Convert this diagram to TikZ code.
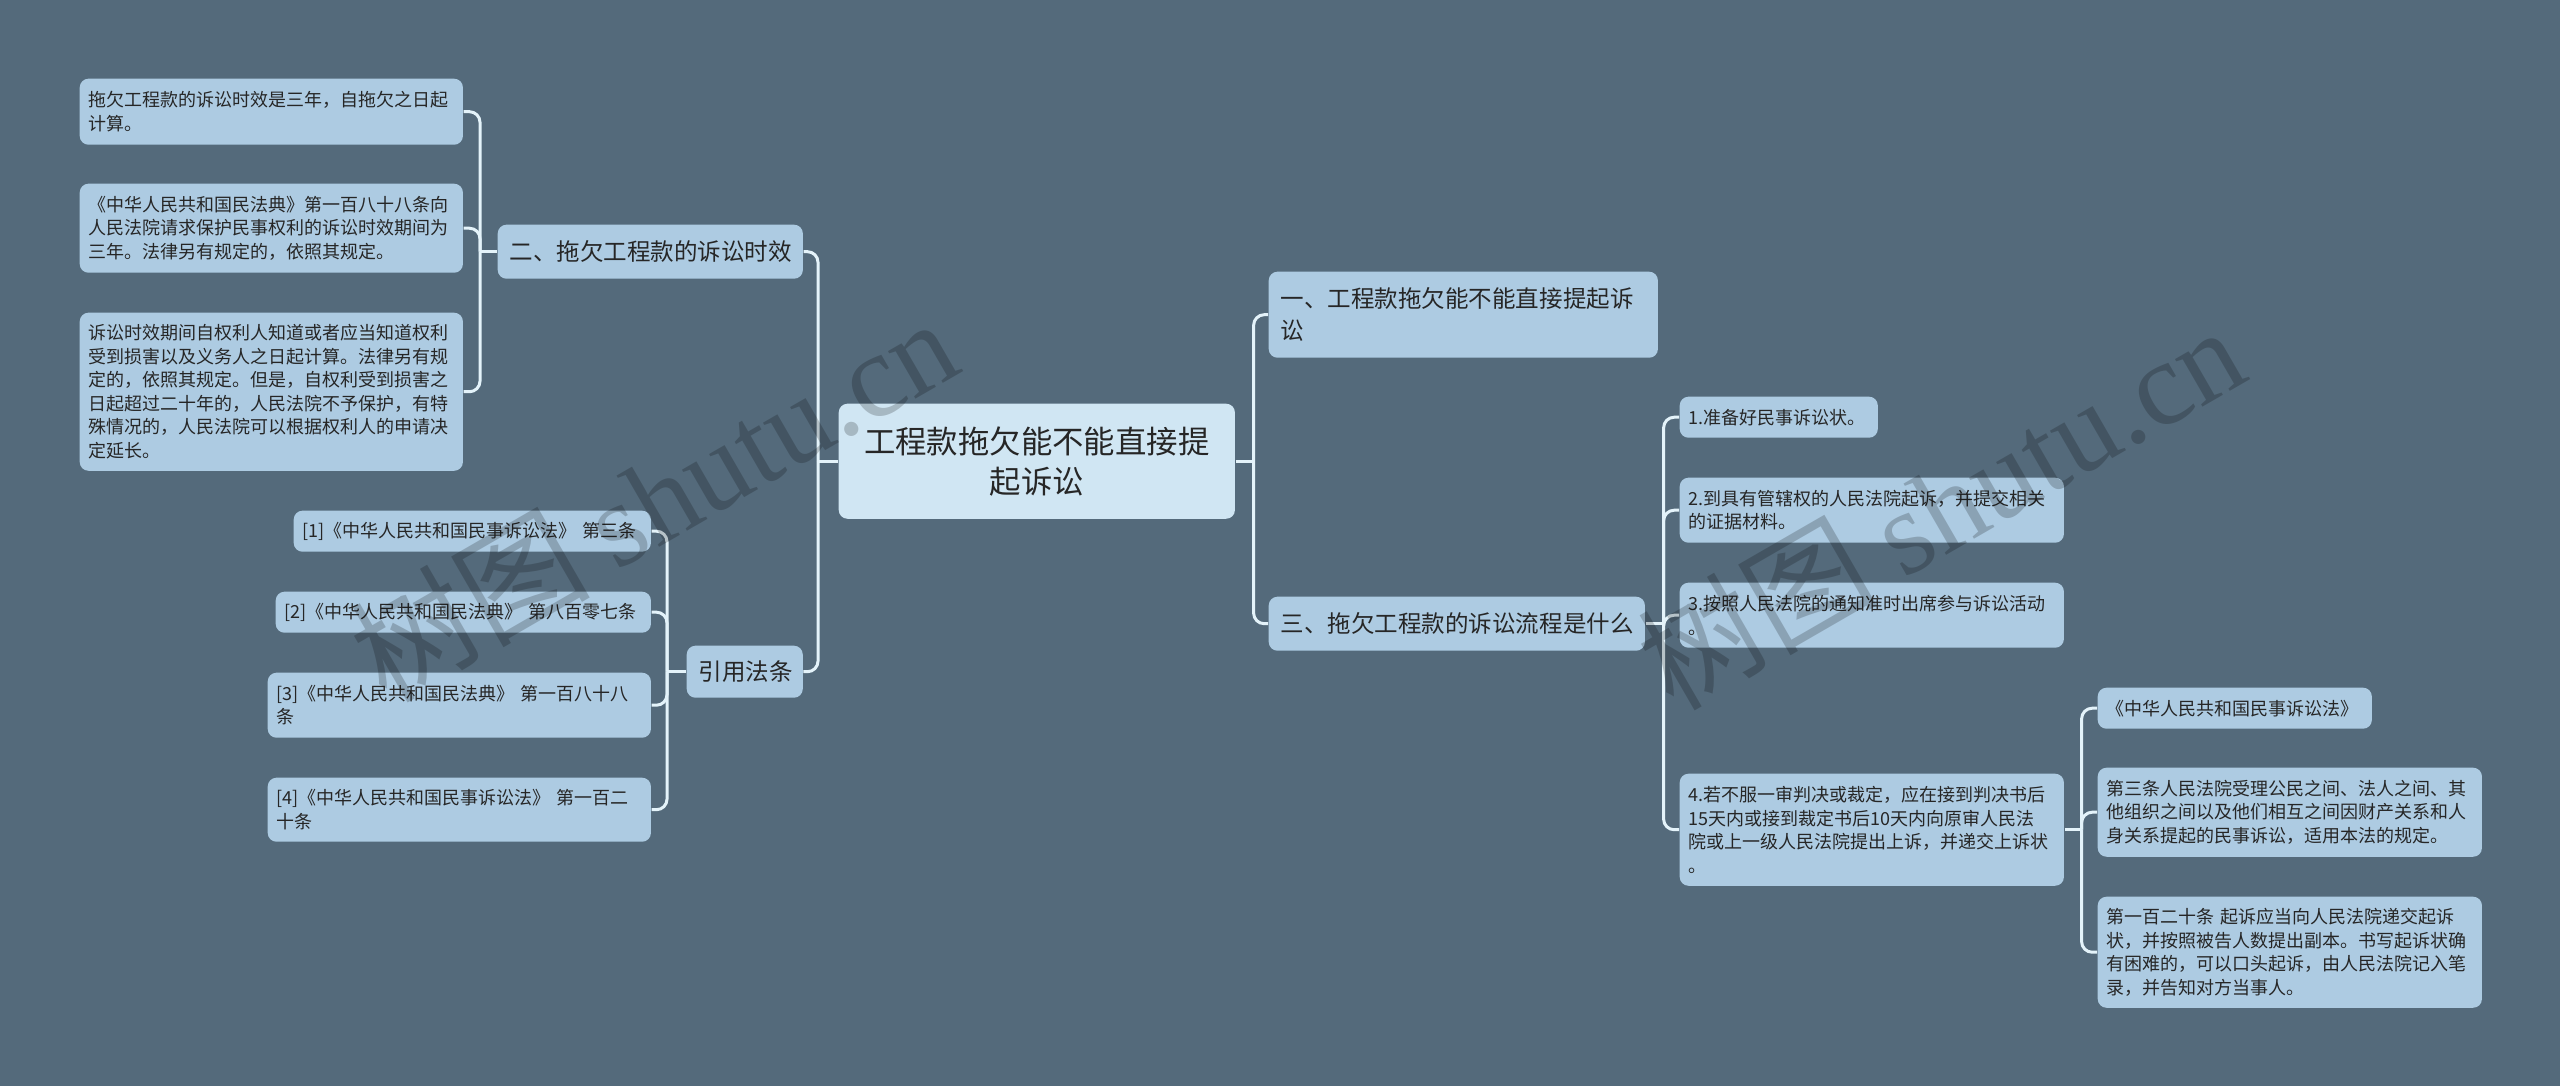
\documentclass[tikz,border=0pt]{standalone}
\usepackage{fontspec}
\setmainfont{Noto Sans CJK SC}
\newfontfamily\wmlatin{Liberation Serif}
\definecolor{bgc}{HTML}{546A7B}
\definecolor{leafc}{HTML}{ADCBE2}
\definecolor{rootc}{HTML}{D0E6F3}
\definecolor{linec}{HTML}{E4F3FA}
\definecolor{txtc}{HTML}{262626}
\newcommand{\leaffont}{\fontsize{5.12pt}{6.69pt}\selectfont}
\newcommand{\primfont}{\fontsize{6.69pt}{9.1pt}\selectfont}
\newcommand{\rootfont}{\fontsize{8.93pt}{11.4pt}\selectfont}
\newcommand{\wmfont}{\fontsize{34pt}{40pt}\selectfont}
\begin{document}
\begin{tikzpicture}[x=0.01cm,y=-0.01cm,
  leaf/.style={fill=leafc, rounded corners=2.5pt, anchor=north west, inner xsep=0.09cm, inner ysep=0pt, align=left, font=\leaffont, text=txtc},
  prim/.style={leaf, inner xsep=0.12cm, font=\primfont},
  rootn/.style={fill=rootc, rounded corners=2.5pt, anchor=north west, inner xsep=0.13cm, inner ysep=0pt, align=center, font=\rootfont, text=txtc},
  sz/.style n args={3}{minimum width=#1cm, minimum height=#2cm, text width=#3cm},
  conn/.style={draw=linec, line width=0.85pt, rounded corners=3pt},
  wm/.style={font=\wmfont, text=black, opacity=0.2, rotate=30, inner sep=0pt}
]
\useasboundingbox (0,0) rectangle (2560,1086);
\fill[bgc] (0,0) rectangle (2560,1086);

% root
\node[rootn, sz={3.96}{1.15}{3.70}] (root) at (838,403) {工程款拖欠能不能直接提\\起诉讼};

% left primary
\node[prim, sz={3.05}{0.54}{2.81}] (l1) at (497,224) {二、拖欠工程款的诉讼时效};
\node[prim, sz={1.16}{0.52}{0.92}] (l2) at (686,645) {引用法条};

% right primary
\node[prim, sz={3.89}{0.86}{3.65}] (r1) at (1268,271) {一、工程款拖欠能不能直接提起诉\\讼};
\node[prim, sz={3.76}{0.54}{3.52}] (r2) at (1268,596) {三、拖欠工程款的诉讼流程是什么};

% leaves of l1
\node[leaf, sz={3.83}{0.66}{3.65}] (a1) at (79,78) {拖欠工程款的诉讼时效是三年，自拖欠之日起\\计算。};
\node[leaf, sz={3.83}{0.89}{3.65}] (a2) at (79,183) {《中华人民共和国民法典》第一百八十八条向\\人民法院请求保护民事权利的诉讼时效期间为\\三年。法律另有规定的，依照其规定。};
\node[leaf, sz={3.83}{1.58}{3.65}] (a3) at (79,312) {诉讼时效期间自权利人知道或者应当知道权利\\受到损害以及义务人之日起计算。法律另有规\\定的，依照其规定。但是，自权利受到损害之\\日起超过二十年的，人民法院不予保护，有特\\殊情况的，人民法院可以根据权利人的申请决\\定延长。};

% leaves of l2
\node[leaf, sz={3.57}{0.41}{3.39}] (b1) at (293,510) {[1]《中华人民共和国民事诉讼法》~第三条};
\node[leaf, sz={3.75}{0.41}{3.57}] (b2) at (275,591) {[2]《中华人民共和国民法典》~第八百零七条};
\node[leaf, sz={3.83}{0.65}{3.65}] (b3) at (267,672) {[3]《中华人民共和国民法典》~第一百八十八\\条};
\node[leaf, sz={3.83}{0.64}{3.65}] (b4) at (267,777) {[4]《中华人民共和国民事诉讼法》~第一百二\\十条};

% leaves of r2
\node[leaf, sz={1.98}{0.41}{1.80}] (c1) at (1679,396) {1.准备好民事诉讼状。};
\node[leaf, sz={3.84}{0.65}{3.66}] (c2) at (1679,477) {2.到具有管辖权的人民法院起诉，并提交相关\\的证据材料。};
\node[leaf, sz={3.84}{0.65}{3.66}] (c3) at (1679,582) {3.按照人民法院的通知准时出席参与诉讼活动\\。};
\node[leaf, sz={3.84}{1.12}{3.66}] (c4) at (1679,773) {4.若不服一审判决或裁定，应在接到判决书后\\15天内或接到裁定书后10天内向原审人民法\\院或上一级人民法院提出上诉，并递交上诉状\\。};

% leaves of c4
\node[leaf, sz={2.74}{0.41}{2.56}] (d1) at (2097,687) {《中华人民共和国民事诉讼法》};
\node[leaf, sz={3.84}{0.89}{3.66}] (d2) at (2097,767) {第三条人民法院受理公民之间、法人之间、其\\他组织之间以及他们相互之间因财产关系和人\\身关系提起的民事诉讼，适用本法的规定。};
\node[leaf, sz={3.84}{1.11}{3.66}] (d3) at (2097,896) {第一百二十条~起诉应当向人民法院递交起诉\\状，并按照被告人数提出副本。书写起诉状确\\有困难的，可以口头起诉，由人民法院记入笔\\录，并告知对方当事人。};

% connectors
\draw[conn] (root.east) -- ++(18,0) coordinate (rootrb);
\draw[conn] (rootrb) |- (r1.west);
\draw[conn] (rootrb) |- (r2.west);
\draw[conn] (root.west) -- ++(-20,0) coordinate (rootlb);
\draw[conn] (rootlb) |- (l1.east);
\draw[conn] (rootlb) |- (l2.east);
\draw[conn] (l1.west) -- ++(-17,0) coordinate (l1b);
\draw[conn] (l1b) |- (a1.east);
\draw[conn] (l1b) |- (a2.east);
\draw[conn] (l1b) |- (a3.east);
\draw[conn] (l2.west) -- ++(-19,0) coordinate (l2b);
\draw[conn] (l2b) |- (b1.east);
\draw[conn] (l2b) |- (b2.east);
\draw[conn] (l2b) |- (b3.east);
\draw[conn] (l2b) |- (b4.east);
\draw[conn] (r2.east) -- ++(18,0) coordinate (r2b);
\draw[conn] (r2b) |- (c1.west);
\draw[conn] (r2b) |- (c2.west);
\draw[conn] (r2b) |- (c3.west);
\draw[conn] (r2b) |- (c4.west);
\draw[conn] (c4.east) -- ++(17,0) coordinate (c4b);
\draw[conn] (c4b) |- (d1.west);
\draw[conn] (c4b) |- (d2.west);
\draw[conn] (c4b) |- (d3.west);

% watermarks
\node[wm] (wm1) at (653,498) {树图 {\wmlatin shutu.cn}};
\node[wm] (wm2) at (1940,506) {树图 {\wmlatin shutu.cn}};
\end{tikzpicture}
\end{document}
